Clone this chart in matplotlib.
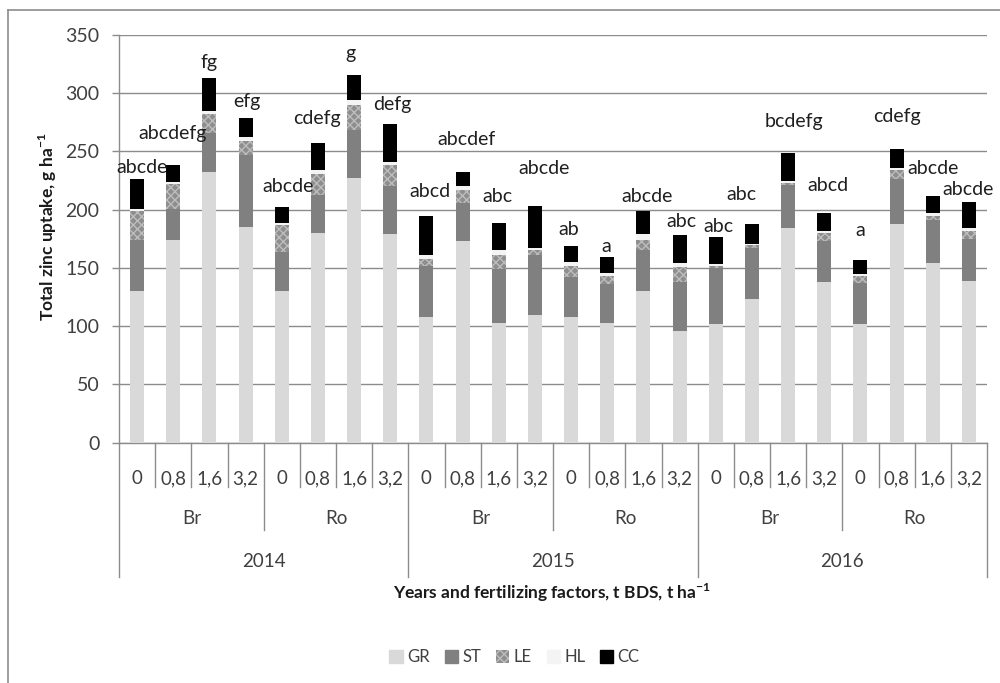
import matplotlib
matplotlib.use("Agg")
import matplotlib.pyplot as plt
from matplotlib.patches import Patch
from matplotlib.lines import Line2D
import numpy as np

plt.rcParams['font.family'] = ['Lato', 'DejaVu Sans']
plt.rcParams['hatch.linewidth'] = 1.0

# ---- data -------------------------------------------------------------
years = ["2014", "2015", "2016"]
sources = ["Br", "Ro"]
doses = ["0", "0,8", "1,6", "3,2"]

GR = [130, 174, 232, 185, 130, 180, 227, 179,
      108, 173, 103, 110, 108, 103, 130, 96,
      102, 123, 184, 138, 102, 188, 154, 139]
ST = [44, 27, 34, 62, 34, 33, 41, 41,
      44, 33, 46, 51, 34, 33, 35, 42,
      48, 44, 37, 35, 35, 38, 37, 36]
LE = [25, 21, 16, 12, 23, 18, 22, 18,
      6, 11, 12, 4, 10, 7, 9, 13,
      2, 3, 2, 7, 6, 8, 4, 7]
HL = [2, 2, 3, 3, 2, 3, 4, 3,
      3, 3, 4, 2, 3, 3, 5, 3,
      1, 1, 2, 2, 2, 2, 2, 2]
CC = [25, 14, 28, 17, 13, 23, 22, 33,
      34, 12, 24, 36, 14, 13, 20, 24,
      24, 17, 24, 15, 12, 16, 15, 23]

letters = ["abcde", "abcdefg", "fg", "efg", "abcde", "cdefg", "g", "defg",
           "abcd", "abcdef", "abc", "abcde", "ab", "a", "abcde", "abc",
           "abc", "abc", "bcdefg", "abcd", "a", "cdefg", "abcde", "abcde"]

# label anchor heights (data units) and horizontal nudges (category units)
label_y = [236, 265, 326, 293, 220, 278.5, 334, 290,
           216, 260, 211.5, 235.6, 183, 168.7, 211.5, 190,
           186, 213, 276, 221, 182, 280, 235, 217.5]
label_dx = [0.14, -0.03, 0.0, 0.03, 0.17, -0.03, -0.11, 0.06,
            0.11, 0.11, -0.03, 0.25, -0.06, -0.03, 0.11, 0.06,
            0.08, -0.28, 0.17, 0.11, 0.0, 0.0, 0.0, -0.03]

series = [("GR", GR), ("ST", ST), ("LE", LE), ("HL", HL), ("CC", CC)]
styles = {
    "GR": dict(color="#d9d9d9"),
    "ST": dict(color="#808080"),
    "LE": dict(facecolor="#8e8e8e", edgecolor="#bdbdbd", hatch="xxxx", linewidth=0),
    "HL": dict(color="#f4f4f4"),
    "CC": dict(color="#000000"),
}

# ---- figure -----------------------------------------------------------
fig = plt.figure(figsize=(10, 6.83), dpi=100)
ax = fig.add_axes([0.119, 0.3518, 0.868, 0.5970])

n = len(GR)
x = np.arange(n) + 0.5
bottom = np.zeros(n)
handles = []
for name, vals in series:
    vals = np.array(vals, dtype=float)
    ax.bar(x, vals, width=0.39, bottom=bottom, label=name, zorder=3, **styles[name])
    bottom += vals
    handles.append(Patch(label=name, **styles[name]))

for i in range(n):
    ax.text(x[i] + label_dx[i], label_y[i], letters[i], ha="center", va="center",
            fontsize=14, color="#1f1f1f", zorder=4)

grid_c = "#8c8c8c"
ax.set_xlim(0, n)
ax.set_ylim(0, 350)
ax.set_yticks(np.arange(0, 351, 50))
ax.yaxis.grid(True, color=grid_c, linewidth=1.0, zorder=0)
ax.set_axisbelow(True)
ax.tick_params(axis="y", direction="out", length=5, width=1, color=grid_c,
               labelsize=14, labelcolor="#404040", pad=9)
ax.set_xticks([])
for s in ["top", "right"]:
    ax.spines[s].set_visible(False)
for s in ["left", "bottom"]:
    ax.spines[s].set_color(grid_c)
    ax.spines[s].set_linewidth(1.0)

# ---- three-level category axis ----------------------------------------
tr = ax.get_xaxis_transform()
ah = 407.7  # axes height in pixels
def yf(px):
    return -px / ah

for b in range(n + 1):
    if b % 8 == 0:
        depth = 134
    elif b % 4 == 0:
        depth = 87
    else:
        depth = 44
    ax.add_line(Line2D([b, b], [0, yf(depth)], transform=tr, color=grid_c,
                       linewidth=1.0, clip_on=False))

for i in range(n):
    ax.text(x[i], yf(36), doses[i % 4], transform=tr, ha="center", va="center",
            fontsize=13.5, color="#404040")
for g in range(n // 4):
    ax.text(g * 4 + 2, yf(76), sources[g % 2], transform=tr, ha="center",
            va="center", fontsize=13.5, color="#404040")
for yi, yr in enumerate(years):
    ax.text(yi * 8 + 4, yf(119), yr, transform=tr, ha="center", va="center",
            fontsize=13.5, color="#404040")

# ---- axis titles ------------------------------------------------------
fig.text(0.048, 1 - 227 / 683, "Total zinc uptake, g ha$^{\\mathregular{-1}}$",
         rotation=90, ha="center", va="center", fontsize=12.5, fontweight="bold",
         color="#1a1a1a")
fig.text(0.552, 1 - 593 / 683,
         "Years and fertilizing factors, t BDS, t ha$^{\\mathregular{-1}}$",
         ha="center", va="center", fontsize=12.5, fontweight="bold", color="#1a1a1a")

# ---- legend -----------------------------------------------------------
fig.legend(handles=handles, loc="center", bbox_to_anchor=(0.5145, 1 - 657 / 683),
           ncol=5, frameon=False, fontsize=12, handlelength=0.8, handleheight=0.8,
           handletextpad=0.25, columnspacing=0.9, labelcolor="#404040")

# ---- outer frame ------------------------------------------------------
fig.add_artist(Line2D([8 / 1000, 8 / 1000], [0, 1 - 10 / 683],
                      transform=fig.transFigure, color="#8c8c8c", linewidth=1.2))
fig.add_artist(Line2D([8 / 1000, 1], [1 - 10 / 683, 1 - 10 / 683],
                      transform=fig.transFigure, color="#8c8c8c", linewidth=1.2))

fig.savefig("out.png", dpi=100)
